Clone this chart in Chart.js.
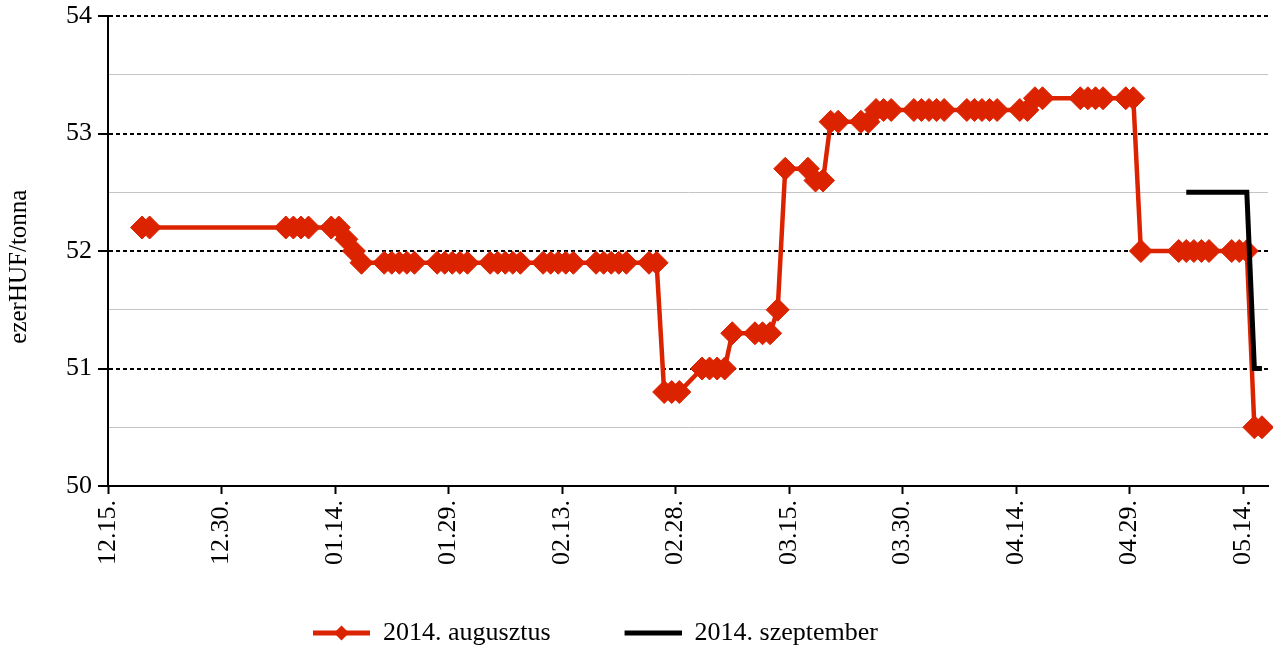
<!DOCTYPE html>
<html><head><meta charset="utf-8">
<script src="https://cdn.jsdelivr.net/npm/chart.js@4/dist/chart.umd.min.js"></script>
<style>html,body{margin:0;padding:0;background:#fff;}</style>
</head><body>
<canvas id="c" width="1273" height="652" style="width:1273px;height:652px;display:block"></canvas>
<script>
// ---- data ----
const tickLabels = ['12.15.','12.30.','01.14.','01.29.','02.13.','02.28.','03.15.','03.30.','04.14.','04.29.','05.14.'];
const augDates = [
 '12.19','12.20',
 '01.07','01.08','01.09','01.10','01.13','01.14','01.15','01.16','01.17',
 '01.20','01.21','01.22','01.23','01.24',
 '01.27','01.28','01.29','01.30','01.31',
 '02.03','02.04','02.05','02.06','02.07',
 '02.10','02.11','02.12','02.13','02.14',
 '02.17','02.18','02.19','02.20','02.21',
 '02.24','02.25','02.26','02.27','02.28',
 '03.03','03.04','03.05','03.06','03.07',
 '03.10','03.11','03.12','03.13','03.14',
 '03.17','03.18','03.19','03.20','03.21',
 '03.24','03.25','03.26','03.27','03.28',
 '03.31','04.01','04.02','04.03','04.04',
 '04.07','04.08','04.09','04.10','04.11',
 '04.14','04.15','04.16','04.17',
 '04.22','04.23','04.24','04.25',
 '04.28','04.29','04.30',
 '05.05','05.06','05.07','05.08','05.09',
 '05.12','05.13','05.14','05.15','05.16'
];
const augValues = [
 52.2,52.2,
 52.2,52.2,52.2,52.2,52.2,52.2,52.1,52.0,51.9,
 51.9,51.9,51.9,51.9,51.9,
 51.9,51.9,51.9,51.9,51.9,
 51.9,51.9,51.9,51.9,51.9,
 51.9,51.9,51.9,51.9,51.9,
 51.9,51.9,51.9,51.9,51.9,
 51.9,51.9,50.8,50.8,50.8,
 51.0,51.0,51.0,51.0,51.3,
 51.3,51.3,51.3,51.5,52.7,
 52.7,52.6,52.6,53.1,53.1,
 53.1,53.1,53.2,53.2,53.2,
 53.2,53.2,53.2,53.2,53.2,
 53.2,53.2,53.2,53.2,53.2,
 53.2,53.2,53.3,53.3,
 53.3,53.3,53.3,53.3,
 53.3,53.3,52.0,
 52.0,52.0,52.0,52.0,52.0,
 52.0,52.0,52.0,50.5,50.5
];
const sepDates = ['05.06','05.07','05.08','05.09','05.12','05.13','05.14','05.15','05.16'];
const sepValues = [52.5,52.5,52.5,52.5,52.5,52.5,52.5,51.0,51.0];
const seriesNames = ['2014. augusztus','2014. szeptember'];
const yTitle = 'ezerHUF/tonna';

// ---- helpers ----
// day number since 2013-12-15 (tick marks sit at the start of a day)
function dayIndex(md){
  const p = md.split('.').filter(s=>s.length).map(Number);
  const y = p[0]===12 ? 2013 : 2014;
  return Math.round((Date.UTC(y,p[0]-1,p[1]) - Date.UTC(2013,11,15))/86400000);
}
// data points sit in the middle of their day slot (date axis, "between tick marks")
const toXY = (ds, vs) => ds.map((d,i)=>({x:dayIndex(d)+0.5, y:vs[i]}));
const tickDays = tickLabels.map(dayIndex);

const RED = '#dc2300';
const FONT = 'Liberation Serif, Times New Roman, serif';

function legendIcon(color, diamond){
  const c = document.createElement('canvas');
  c.width = 121; c.height = 20;
  const g = c.getContext('2d');
  g.strokeStyle = color; g.lineWidth = 5;
  g.beginPath(); g.moveTo(64,10); g.lineTo(121,10); g.stroke();
  if (diamond){
    g.fillStyle = color;
    g.beginPath(); g.moveTo(92.5,2.5); g.lineTo(100,10); g.lineTo(92.5,17.5); g.lineTo(85,10); g.closePath(); g.fill();
  }
  return c;
}
const icons = [legendIcon(RED,true), legendIcon('#000',false)];

const legendShift = {
  id:'legendShift',
  afterLayout(chart){
    const l = chart.legend;
    if (!l || !l.lineWidths) return;
    const p = l.options.labels.padding;
    const x0 = (l.left + p + l.right - l.lineWidths[0]) / 2;
    const dx = 249 - x0;
    l.left += dx; l.right += dx;
    l.top += 4; l.bottom += 4;
  }
};

const isInt = v => Math.abs(v - Math.round(v)) < 1e-6;

new Chart(document.getElementById('c'), {
  type:'line',
  data:{
    datasets:[
      {label:seriesNames[0], data:toXY(augDates,augValues), borderColor:RED, backgroundColor:RED,
       borderWidth:4.5, pointStyle:'rectRot', pointRadius:11.5, pointHoverRadius:11.5,
       pointBackgroundColor:RED, pointBorderColor:RED, pointBorderWidth:1, tension:0, order:1, clip:false},
      {label:seriesNames[1], data:toXY(sepDates,sepValues), borderColor:'#000', backgroundColor:'#000',
       borderWidth:5, pointRadius:0, pointHoverRadius:0, tension:0, order:0, clip:false}
    ]
  },
  options:{
    responsive:false, animation:false, devicePixelRatio:1,
    layout:{autoPadding:false, padding:{top:16,right:5,left:0,bottom:0}},
    plugins:{
      tooltip:{enabled:false},
      legend:{
        position:'bottom',
        labels:{
          usePointStyle:true, pointStyleWidth:121, padding:10, color:'#000',
          font:{family:FONT, size:26},
          sort:(a,b)=>a.datasetIndex-b.datasetIndex,
          generateLabels:(chart)=>{
            const items = Chart.defaults.plugins.legend.labels.generateLabels(chart);
            items.forEach(it=>{ it.pointStyle = icons[it.datasetIndex]; });
            return items;
          }
        }
      }
    },
    scales:{
      x:{
        type:'linear', min:0, max:153.3,
        afterBuildTicks:(s)=>{ s.ticks = tickDays.map(v=>({value:v})); },
        afterFit:(s)=>{ s.height = 120; s.paddingLeft = 0; s.paddingRight = 0; },
        ticks:{
          minRotation:90, maxRotation:90, autoSkip:false, padding:6, color:'#000',
          font:{family:FONT, size:26},
          callback:(v)=>{ const i = tickDays.indexOf(v); return i>=0 ? tickLabels[i] : ''; }
        },
        grid:{drawOnChartArea:false, drawTicks:true, tickLength:8, tickColor:'#000', tickWidth:2},
        border:{display:true, color:'#000', width:2}
      },
      y:{
        min:50, max:54,
        afterFit:(s)=>{ s.width = 108; s.paddingTop = 0; s.paddingBottom = 0; },
        ticks:{
          stepSize:0.5, padding:6, color:'#000', font:{family:FONT, size:26},
          callback:(v)=> isInt(v) ? String(Math.round(v)) : ''
        },
        title:{display:true, text:yTitle + '\u00a0\u00a0\u00a0\u00a0\u00a0', color:'#000',
               font:{family:FONT, size:25}, padding:{top:4,bottom:0}},
        grid:{
          drawTicks:true, tickLength:10, tickWidth:2,
          color:(c)=> (c.tick && isInt(c.tick.value)) ? '#000' : '#c4c4c4',
          lineWidth:(c)=> (c.tick && isInt(c.tick.value)) ? 2 : 1,
          tickColor:(c)=> (c.tick && isInt(c.tick.value)) ? '#000' : 'rgba(0,0,0,0)'
        },
        border:{display:true, color:'#000', width:2,
          dash:(c)=> (c.tick && isInt(c.tick.value)) ? [4,3] : []}
      }
    }
  },
  plugins:[legendShift]
});
</script>
</body></html>
